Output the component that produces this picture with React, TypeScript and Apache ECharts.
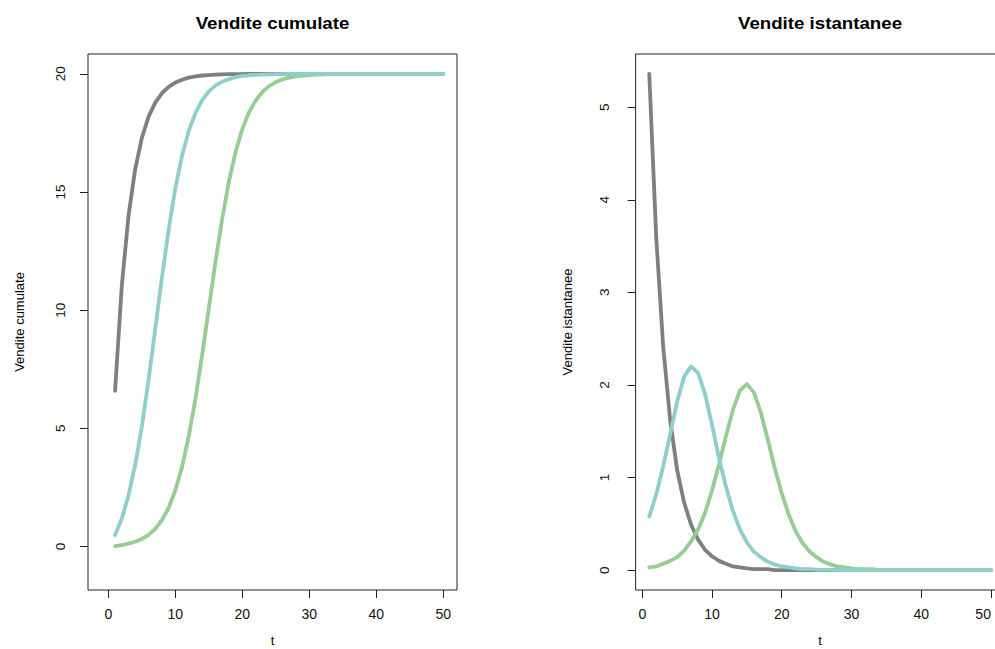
import React, { useEffect, useRef } from "react";
import * as echarts from "echarts";

const t = [1, 2, 3, 4, 5, 6, 7, 8, 9, 10, 11, 12, 13, 14, 15, 16, 17, 18, 19, 20, 21, 22, 23, 24, 25, 26, 27, 28, 29, 30, 31, 32, 33, 34, 35, 36, 37, 38, 39, 40, 41, 42, 43, 44, 45, 46, 47, 48, 49, 50];

const grayCum = [6.59, 11.01, 13.98, 15.96, 17.29, 18.19, 18.78, 19.18, 19.45, 19.63, 19.75, 19.84, 19.89, 19.93, 19.95, 19.97, 19.98, 19.99, 19.99, 19.99, 20, 20, 20, 20, 20, 20, 20, 20, 20, 20, 20, 20, 20, 20, 20, 20, 20, 20, 20, 20, 20, 20, 20, 20, 20, 20, 20, 20, 20, 20];
const cyanCum = [0.49, 1.18, 2.15, 3.44, 5.09, 7.05, 9.21, 11.39, 13.42, 15.16, 16.54, 17.59, 18.35, 18.89, 19.26, 19.51, 19.67, 19.78, 19.86, 19.91, 19.94, 19.96, 19.97, 19.98, 19.99, 19.99, 20, 20, 20, 20, 20, 20, 20, 20, 20, 20, 20, 20, 20, 20, 20, 20, 20, 20, 20, 20, 20, 20, 20, 20];
const greenCum = [0.02, 0.06, 0.12, 0.2, 0.32, 0.49, 0.75, 1.12, 1.64, 2.38, 3.37, 4.66, 6.26, 8.1, 10.09, 12.07, 13.89, 15.45, 16.71, 17.67, 18.38, 18.88, 19.24, 19.48, 19.65, 19.77, 19.84, 19.89, 19.93, 19.95, 19.97, 19.98, 19.99, 19.99, 19.99, 20, 20, 20, 20, 20, 20, 20, 20, 20, 20, 20, 20, 20, 20, 20];

const grayInst = [5.36, 3.59, 2.41, 1.62, 1.08, 0.73, 0.49, 0.33, 0.22, 0.15, 0.1, 0.07, 0.04, 0.03, 0.02, 0.01, 0.01, 0.01, 0, 0, 0, 0, 0, 0, 0, 0, 0, 0, 0, 0, 0, 0, 0, 0, 0, 0, 0, 0, 0, 0, 0, 0, 0, 0, 0, 0, 0, 0, 0, 0];
const cyanInst = [0.58, 0.82, 1.12, 1.47, 1.82, 2.09, 2.2, 2.13, 1.9, 1.57, 1.21, 0.9, 0.64, 0.44, 0.3, 0.2, 0.14, 0.09, 0.06, 0.04, 0.03, 0.02, 0.01, 0.01, 0.005, 0.003, 0.002, 0.001, 0.001, 0, 0, 0, 0, 0, 0, 0, 0, 0, 0, 0, 0, 0, 0, 0, 0, 0, 0, 0, 0, 0];
const greenInst = [0.03, 0.04, 0.07, 0.1, 0.14, 0.21, 0.31, 0.44, 0.62, 0.86, 1.14, 1.45, 1.73, 1.94, 2.01, 1.92, 1.7, 1.41, 1.1, 0.83, 0.6, 0.42, 0.29, 0.2, 0.14, 0.09, 0.06, 0.04, 0.03, 0.02, 0.01, 0.01, 0.01, 0, 0, 0, 0, 0, 0, 0, 0, 0, 0, 0, 0, 0, 0, 0, 0, 0];

const xTicks = [0, 10, 20, 30, 40, 50];
const yTicksCum = [0, 5, 10, 15, 20];
const yTicksInst = [0, 1, 2, 3, 4, 5];

const titles = ["Vendite cumulate", "Vendite istantanee"];
const yNames = ["Vendite cumulate", "Vendite istantanee"];
const xName = "t";

const FONT = "'Liberation Sans', Arial, Helvetica, sans-serif";
const GRAY = "#7f7f7f";
const CYAN = "#8ecfcc";
const GREEN = "#95cd95";

function pairs(ys: number[]) {
  return t.map((x, i) => [x, ys[i]]);
}

export default function App() {
  const ref = useRef<HTMLDivElement>(null);
  useEffect(() => {
    if (!ref.current) return;
    const chart = echarts.init(ref.current, null, { renderer: "svg" });

    const xAxisBase = (gridIndex: number, min: number, max: number, alignMax: string | null) => ({
      type: "value",
      gridIndex,
      min,
      max,
      name: xName,
      nameLocation: "middle",
      nameGap: 44,
      nameTextStyle: { fontFamily: FONT, fontSize: 13, color: "#000" },
      axisLine: { show: false, onZero: false },
      axisTick: { show: true, length: 8, customValues: xTicks, lineStyle: { color: "#222", width: 1 } },
      axisLabel: {
        show: true,
        customValues: xTicks,
        margin: 17,
        fontFamily: FONT,
        fontSize: 14,
        color: "#111",
        ...(alignMax ? { alignMaxLabel: alignMax } : {}),
      },
      splitLine: { show: false },
    });

    const yAxisBase = (gridIndex: number, min: number, max: number, ticks: number[], name: string, margin: number) => ({
      type: "value",
      gridIndex,
      min,
      max,
      name,
      nameLocation: "middle",
      nameGap: 62,
      nameRotate: 90,
      nameTextStyle: { fontFamily: FONT, fontSize: 13, color: "#000" },
      axisLine: { show: false, onZero: false },
      axisTick: { show: true, length: 8, customValues: ticks, lineStyle: { color: "#222", width: 1 } },
      axisLabel: { show: true, customValues: ticks, rotate: 90, margin, fontFamily: FONT, fontSize: 13.5, color: "#111" },
      splitLine: { show: false },
    });

    const line = (xi: number, data: number[], color: string, z: number) => ({
      type: "line",
      xAxisIndex: xi,
      yAxisIndex: xi,
      data: pairs(data),
      showSymbol: false,
      symbol: "none",
      smooth: false,
      clip: true,
      z,
      lineStyle: { color, width: 3.8, cap: "round", join: "round" },
    });

    chart.setOption({
      animation: false,
      backgroundColor: "#ffffff",
      grid: [
        { left: 88, top: 54, width: 369, height: 536, outerBoundsMode: "none", containLabel: false, show: true, borderColor: "#222", borderWidth: 1, backgroundColor: "transparent" },
        { left: 635.6, top: 54, width: 369, height: 536, outerBoundsMode: "none", containLabel: false, show: true, borderColor: "#222", borderWidth: 1, backgroundColor: "transparent" },
      ],
      xAxis: [xAxisBase(0, -3.04, 52.04, null), xAxisBase(1, -0.96, 51.96, "right")],
      yAxis: [
        yAxisBase(0, -1.84, 20.84, yTicksCum, yNames[0], 21),
        yAxisBase(1, -0.2144, 5.574, yTicksInst, yNames[1], 24),
      ],
      graphic: [
        {
          type: "text",
          x: 272.5,
          y: 23,
          scaleX: 1.1,
          style: { text: titles[0], fontFamily: FONT, fontSize: 17, fontWeight: "bold", fill: "#000", align: "center", verticalAlign: "middle" },
        },
        {
          type: "text",
          x: 820,
          y: 23,
          scaleX: 1.1,
          style: { text: titles[1], fontFamily: FONT, fontSize: 17, fontWeight: "bold", fill: "#000", align: "center", verticalAlign: "middle" },
        },
      ],
      series: [
        line(0, grayCum, GRAY, 2),
        line(0, greenCum, GREEN, 3),
        line(0, cyanCum, CYAN, 4),
        line(1, grayInst, GRAY, 2),
        line(1, greenInst, GREEN, 3),
        line(1, cyanInst, CYAN, 4),
      ],
    });
    return () => chart.dispose();
  }, []);

  return (
    <div
      ref={ref}
      style={{ position: "absolute", left: 0, top: 0, width: 995, height: 649, background: "#fff" }}
    />
  );
}
